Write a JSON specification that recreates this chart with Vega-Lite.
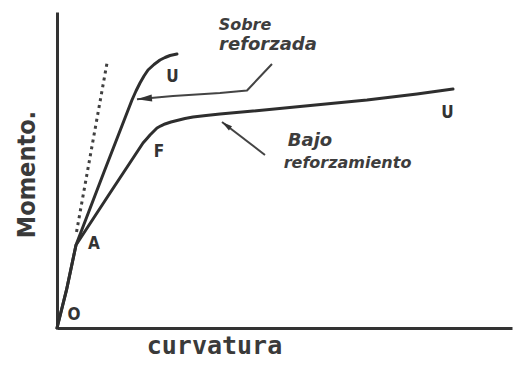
{
  "$schema": "https://vega.github.io/schema/vega-lite/v6.json",
  "width": 455,
  "height": 316,
  "autosize": {"type": "none"},
  "padding": {"left": 57, "top": 12, "right": 3, "bottom": 37},
  "background": "white",
  "config": {"view": {"stroke": null}},
  "datasets": {
    "curvas": [
      {"serie": "bajo", "i": 0, "x": 0, "y": 0},
      {"serie": "bajo", "i": 1, "x": 2.09, "y": 12.03},
      {"serie": "bajo", "i": 2, "x": 4.18, "y": 26.27},
      {"serie": "bajo", "i": 3, "x": 11.65, "y": 42.72},
      {"serie": "bajo", "i": 4, "x": 18.9, "y": 58.54},
      {"serie": "bajo", "i": 5, "x": 19.78, "y": 59.97},
      {"serie": "bajo", "i": 6, "x": 20.44, "y": 61.08},
      {"serie": "bajo", "i": 7, "x": 21.32, "y": 62.34},
      {"serie": "bajo", "i": 8, "x": 21.98, "y": 63.29},
      {"serie": "bajo", "i": 9, "x": 22.86, "y": 63.99},
      {"serie": "bajo", "i": 10, "x": 23.74, "y": 64.56},
      {"serie": "bajo", "i": 11, "x": 25.05, "y": 65.19},
      {"serie": "bajo", "i": 12, "x": 26.37, "y": 65.66},
      {"serie": "bajo", "i": 13, "x": 28.13, "y": 66.3},
      {"serie": "bajo", "i": 14, "x": 29.89, "y": 66.77},
      {"serie": "bajo", "i": 15, "x": 32.75, "y": 67.28},
      {"serie": "bajo", "i": 16, "x": 35.82, "y": 67.72},
      {"serie": "bajo", "i": 17, "x": 43.08, "y": 68.67},
      {"serie": "bajo", "i": 18, "x": 53.41, "y": 70.09},
      {"serie": "bajo", "i": 19, "x": 68.13, "y": 72.15},
      {"serie": "bajo", "i": 20, "x": 79.12, "y": 74.05},
      {"serie": "bajo", "i": 21, "x": 87.03, "y": 75.63},
      {"serie": "sobre", "i": 0, "x": 0, "y": 0},
      {"serie": "sobre", "i": 1, "x": 2.09, "y": 12.03},
      {"serie": "sobre", "i": 2, "x": 4.18, "y": 26.27},
      {"serie": "sobre", "i": 3, "x": 10.33, "y": 49.37},
      {"serie": "sobre", "i": 4, "x": 16.48, "y": 72.15},
      {"serie": "sobre", "i": 5, "x": 17.36, "y": 75.0},
      {"serie": "sobre", "i": 6, "x": 18.24, "y": 77.53},
      {"serie": "sobre", "i": 7, "x": 19.12, "y": 79.75},
      {"serie": "sobre", "i": 8, "x": 20.0, "y": 81.65},
      {"serie": "sobre", "i": 9, "x": 21.32, "y": 83.39},
      {"serie": "sobre", "i": 10, "x": 22.64, "y": 84.81},
      {"serie": "sobre", "i": 11, "x": 23.74, "y": 85.6},
      {"serie": "sobre", "i": 12, "x": 24.84, "y": 86.23},
      {"serie": "sobre", "i": 13, "x": 26.37, "y": 86.71}
    ],
    "tangente": [
      {"i": 0, "x": 4.29, "y": 30.38},
      {"i": 1, "x": 10.99, "y": 83.86}
    ],
    "guias": [
      {"flecha": "sobre", "i": 0, "x": 17.58, "y": 72.37},
      {"flecha": "sobre", "i": 1, "x": 25.49, "y": 73.42},
      {"flecha": "sobre", "i": 2, "x": 35.82, "y": 74.37},
      {"flecha": "sobre", "i": 3, "x": 41.76, "y": 75.16},
      {"flecha": "sobre", "i": 4, "x": 47.25, "y": 83.54},
      {"flecha": "bajo", "i": 0, "x": 36.26, "y": 65.19},
      {"flecha": "bajo", "i": 1, "x": 45.71, "y": 54.75}
    ],
    "puntas": [
      {"flecha": "sobre", "x": 17.58, "y": 72.37},
      {"flecha": "bajo", "x": 36.26, "y": 65.19}
    ],
    "puntos": [
      {"texto": "U", "x": 25.38, "y": 79.43},
      {"texto": "U", "x": 85.82, "y": 67.88},
      {"texto": "F", "x": 22.42, "y": 55.54},
      {"texto": "A", "x": 8.13, "y": 26.58},
      {"texto": "O", "x": 3.74, "y": 4.11}
    ],
    "notas": [
      {"texto": "Sobre", "x": 41.32, "y": 95.89},
      {"texto": "reforzada", "x": 46.37, "y": 89.56},
      {"texto": "Bajo", "x": 55.6, "y": 59.18},
      {"texto": "reforzamiento", "x": 63.85, "y": 52.37}
    ]
  },
  "encoding": {
    "x": {
      "field": "x",
      "type": "quantitative",
      "scale": {"domain": [0, 100], "nice": false, "zero": false},
      "axis": {
        "title": "curvatura",
        "grid": false,
        "ticks": false,
        "labels": false,
        "domainColor": "#333333",
        "domainWidth": 3,
        "titleFont": "DejaVu Sans Mono",
        "titleFontSize": 25,
        "titleFontWeight": "bold",
        "titleColor": "#3a3a3a",
        "titleX": 157,
        "titleY": 25,
        "titleAlign": "center",
        "titleBaseline": "alphabetic"
      }
    },
    "y": {
      "field": "y",
      "type": "quantitative",
      "scale": {"domain": [0, 100], "nice": false, "zero": false},
      "axis": {
        "title": "Momento.",
        "grid": false,
        "ticks": false,
        "labels": false,
        "domainColor": "#333333",
        "domainWidth": 3,
        "titleFont": "Liberation Sans Narrow, DejaVu Sans Condensed, sans-serif",
        "titleFontSize": 25,
        "titleFontWeight": "bold",
        "titleColor": "#3a3a3a",
        "titleAngle": 270,
        "titleX": -23,
        "titleY": 162,
        "titleAlign": "center",
        "titleBaseline": "alphabetic"
      }
    }
  },
  "layer": [
    {
      "data": {"name": "curvas"},
      "mark": {"type": "line", "color": "#2e2e2e", "strokeWidth": 3, "strokeCap": "round", "strokeJoin": "round"},
      "encoding": {"detail": {"field": "serie"}, "order": {"field": "i"}}
    },
    {
      "data": {"name": "tangente"},
      "mark": {"type": "line", "color": "#404040", "strokeWidth": 3, "strokeDash": [3, 4]},
      "encoding": {"order": {"field": "i"}}
    },
    {
      "data": {"name": "guias"},
      "mark": {"type": "line", "color": "#444444", "strokeWidth": 2, "strokeJoin": "round"},
      "encoding": {"detail": {"field": "flecha"}, "order": {"field": "i"}}
    },
    {
      "data": {"name": "puntas"},
      "transform": [{"filter": "datum.flecha == 'sobre'"}],
      "mark": {"type": "point", "filled": true, "opacity": 1, "color": "#333333", "shape": "M0,0L1.2,5L-1.2,5Z", "size": 36, "angle": 265}
    },
    {
      "data": {"name": "puntas"},
      "transform": [{"filter": "datum.flecha == 'bajo'"}],
      "mark": {"type": "point", "filled": true, "opacity": 1, "color": "#333333", "shape": "M0,0L1.2,5L-1.2,5Z", "size": 18, "angle": 307}
    },
    {
      "data": {"name": "puntos"},
      "mark": {"type": "text", "font": "Liberation Sans Narrow, DejaVu Sans Condensed, sans-serif", "fontWeight": "bold", "fontSize": 17, "color": "#333333", "align": "center", "baseline": "middle"},
      "encoding": {"text": {"field": "texto"}}
    },
    {
      "data": {"name": "notas"},
      "transform": [{"filter": "datum.texto == 'Sobre' || datum.texto == 'reforzamiento'"}],
      "mark": {"type": "text", "font": "DejaVu Sans", "fontWeight": "bold", "fontStyle": "italic", "fontSize": 16, "color": "#3d3d3d", "align": "center", "baseline": "middle"},
      "encoding": {"text": {"field": "texto"}}
    },
    {
      "data": {"name": "notas"},
      "transform": [{"filter": "datum.texto == 'reforzada' || datum.texto == 'Bajo'"}],
      "mark": {"type": "text", "font": "DejaVu Sans", "fontWeight": "bold", "fontStyle": "italic", "fontSize": 18, "color": "#3d3d3d", "align": "center", "baseline": "middle"},
      "encoding": {"text": {"field": "texto"}}
    }
  ]
}
